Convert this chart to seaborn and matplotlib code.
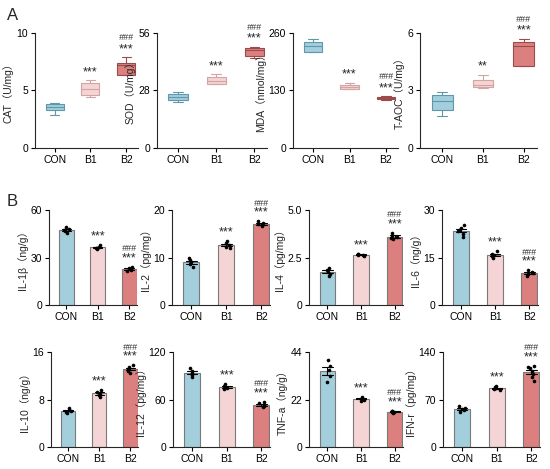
import numpy as np
import pandas as pd
import matplotlib
matplotlib.use('Agg')
import matplotlib.pyplot as plt
import seaborn as sns

groups = ['CON', 'B1', 'B2']

# panel A: box plots (5 values -> min, q1, median, q3, max)
cat = {'CON': [2.9, 3.33, 3.6, 3.86, 3.9], 'B1': [4.4, 4.58, 5.13, 5.65, 5.9], 'B2': [6.35, 6.36, 7.2, 7.39, 7.9]}
sod = {'CON': [22.4, 23.5, 24.8, 26.5, 27.1], 'B1': [31.0, 31.0, 32.8, 34.6, 35.9], 'B2': [43.7, 44.6, 47.6, 48.7, 49.2]}
mda = {'CON': [217, 217.5, 229.8, 239.6, 245.7], 'B1': [133.4, 133.5, 137, 142.4, 147], 'B2': [109.3, 110.8, 112.3, 115.3, 116.8]}
taoc = {'CON': [1.69, 2.0, 2.43, 2.77, 2.94], 'B1': [3.11, 3.18, 3.29, 3.57, 3.81], 'B2': [4.26, 4.27, 5.34, 5.53, 5.69]}

# panel B: bar + points
il1b = {'CON': [45.5, 46.5, 47.2, 48.0, 49.0], 'B1': [35.6, 36.0, 36.3, 36.6, 37.8], 'B2': [21.6, 22.3, 22.7, 23.2, 24.0]}
il2 = {'CON': [8.0, 8.6, 9.0, 9.4, 10.0], 'B1': [11.9, 12.3, 12.6, 13.0, 13.5], 'B2': [16.6, 16.9, 17.1, 17.3, 17.6]}
il4 = {'CON': [1.55, 1.65, 1.75, 1.85, 1.95], 'B1': [2.60, 2.63, 2.65, 2.68, 2.70], 'B2': [3.45, 3.52, 3.58, 3.65, 3.80]}
il6 = {'CON': [21.5, 22.5, 23.5, 24.2, 25.3, 23.8], 'B1': [15.0, 15.4, 15.8, 16.2, 16.9], 'B2': [9.2, 9.8, 10.1, 10.4, 10.9]}
il10 = {'CON': [5.8, 5.95, 6.1, 6.25, 6.5], 'B1': [8.4, 8.8, 9.0, 9.3, 9.6], 'B2': [12.5, 12.8, 13.1, 13.4, 13.8]}
il12 = {'CON': [89, 91.5, 94, 96, 99.5], 'B1': [73, 75, 76, 77.5, 79], 'B2': [50, 52, 53.5, 55, 57]}
tnfa = {'CON': [30, 33, 35.5, 37.5, 40.5], 'B1': [21.5, 22.0, 22.3, 22.6, 23.1], 'B2': [15.8, 16.1, 16.3, 16.5, 16.8]}
ifnr = {'CON': [52, 54.5, 56, 58, 60.5], 'B1': [84, 85.5, 86.5, 88, 89.5], 'B2': [98, 103, 108, 112, 116, 120, 118]}

fill = {'CON': '#a3cedc', 'B1': '#f4d4d4', 'B2': '#dc7f7f'}
edge = {'CON': '#5f97ab', 'B1': '#d4a3a3', 'B2': '#9c4a4c'}

sns.set_style('ticks')
plt.rcParams['font.family'] = ['Liberation Sans', 'Noto Sans CJK SC', 'DejaVu Sans']
plt.rcParams['axes.linewidth'] = 0.8
plt.rcParams['xtick.major.width'] = 0.8
plt.rcParams['ytick.major.width'] = 0.8
plt.rcParams['xtick.major.size'] = 3
plt.rcParams['ytick.major.size'] = 3

fig = plt.figure(figsize=(5.5, 4.69), dpi=100)
W, H = 550, 469


def add_ax(l, r, t, b):
    return fig.add_axes([l / W, 1 - b / H, (r - l) / W, (b - t) / H])


def to_df(d):
    return pd.DataFrame([(g, v) for g in groups for v in d[g]], columns=['group', 'value'])


def finish(ax, ymax, ticklabels, ylabel):
    ax.set_ylim(0, ymax)
    ax.set_yticks([0, ymax / 2, ymax])
    ax.set_yticklabels(ticklabels)
    ax.set_ylabel(ylabel, fontsize=7.5, labelpad=2)
    ax.set_xlabel('')
    ax.tick_params(labelsize=7.5, pad=2, colors='black')
    sns.despine(ax=ax)


def marks(ax, d, ymax, sig, off):
    for i, g in enumerate(groups):
        if not sig[i]:
            continue
        top = max(d[g])
        lines = sig[i].split('\n')
        ax.text(i, top + off * ymax, lines[-1], ha='center', va='center', fontsize=9)
        if len(lines) > 1:
            ax.text(i, top + (off + 0.1) * ymax, lines[0], ha='center', va='center',
                    fontsize=6.5, color='#333333', fontstyle='italic')


def box_panel(pos, d, ymax, ticklabels, ylabel, sig):
    ax = add_ax(*pos)
    sns.boxplot(data=to_df(d), x='group', y='value', hue='group', order=groups,
                palette=fill, saturation=1, whis=(0, 100), width=0.5, linewidth=0.8,
                legend=False, ax=ax)
    for g, c in zip(groups, ax.containers):
        for b in c.boxes:
            b.set_edgecolor(edge[g])
        for ln in list(c.whiskers) + list(c.caps) + list(c.medians):
            ln.set_color(edge[g])
    ax.set_xlim(-0.55, 2.33)
    finish(ax, ymax, ticklabels, ylabel)
    marks(ax, d, ymax, sig, 0.07)


def bar_panel(pos, d, ymax, ticklabels, ylabel, sig):
    ax = add_ax(*pos)
    df = to_df(d)
    sns.barplot(data=df, x='group', y='value', hue='group', order=groups,
                palette=fill, saturation=1, errorbar='se', capsize=0.3, width=0.47,
                edgecolor='#7a7a7a', linewidth=0.8,
                err_kws={'linewidth': 0.8, 'color': 'black'}, legend=False, ax=ax)
    sns.stripplot(data=df, x='group', y='value', order=groups, color='black',
                  size=2.6, jitter=0.1, ax=ax)
    ax.set_xlim(-0.55, 2.25)
    finish(ax, ymax, ticklabels, ylabel)
    marks(ax, d, ymax, sig, 0.09)


sig3 = ['', '***', '###\n***']
box_panel((35, 138, 33, 148), cat, 10, ['0', '5', '10'], 'CAT（U/mg）', sig3)
box_panel((157, 267, 33, 148), sod, 56, ['0', '28', '56'], 'SOD（U/mg）', sig3)
box_panel((293, 398, 33, 148), mda, 260, ['0', '130', '260'], 'MDA（nmol/mg）', sig3)
box_panel((420, 537, 33, 148), taoc, 6, ['0', '3', '6'], 'T-AOC（U/mg）', ['', '**', '###\n***'])

bar_panel((49, 137, 210, 305), il1b, 60, ['0', '30', '60'], 'IL-1β（ng/g）', sig3)
bar_panel((172, 270, 210, 305), il2, 20, ['0', '10', '20'], 'IL-2（pg/mg）', sig3)
bar_panel((309, 403, 210, 305), il4, 5, ['0', '2.5', '5.0'], 'IL-4（pg/mg）', sig3)
bar_panel((442, 538, 210, 305), il6, 30, ['0', '15', '30'], 'IL-6（ng/g）', sig3)

bar_panel((51, 138, 352, 447), il10, 16, ['0', '8', '16'], 'IL-10（ng/g）', sig3)
bar_panel((173, 270, 352, 447), il12, 120, ['0', '60', '120'], 'IL-12（pg/mg）', sig3)
bar_panel((309, 403, 352, 447), tnfa, 44, ['0', '22', '44'], 'TNF-a（ng/g）', sig3)
bar_panel((443, 540, 352, 447), ifnr, 140, ['0', '70', '140'], 'IFN-r（pg/mg）', sig3)

fig.text(7 / W, 1 - 16 / H, 'A', fontsize=12, va='center', ha='left')
fig.text(7 / W, 1 - 201 / H, 'B', fontsize=12, va='center', ha='left')

fig.savefig('out.png', dpi=100)
